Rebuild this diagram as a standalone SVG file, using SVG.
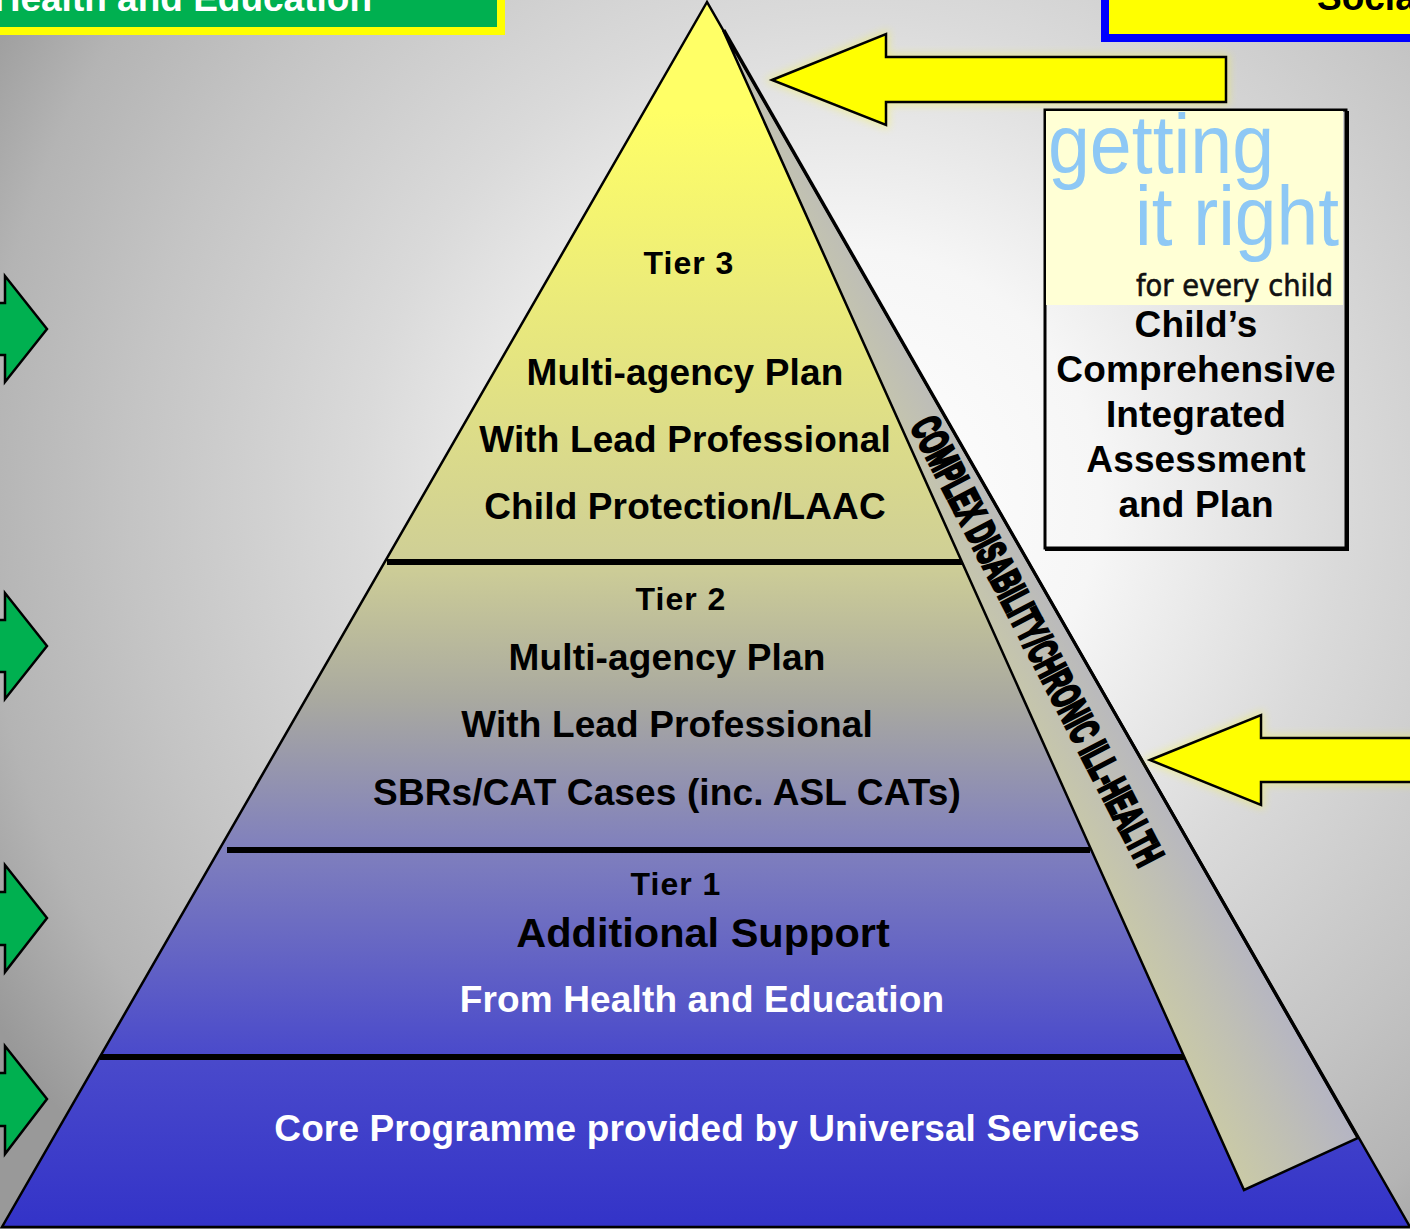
<svg xmlns="http://www.w3.org/2000/svg" width="1410" height="1229" viewBox="0 0 1410 1229">
<style>
.t{font-family:"Liberation Sans",Arial,sans-serif;font-weight:700;text-anchor:middle;fill:#000}
.w{fill:#fff}
.a{stroke:#000;stroke-width:2.5;stroke-linejoin:miter}
.y{fill:#ff0}
.g{fill:#00b050}
.d{stroke:#000;stroke-width:6;fill:none}
.m{font-size:37px;letter-spacing:.13px}
.r{font-size:32px;letter-spacing:1px}
.l{font-family:"Liberation Sans",Arial,sans-serif;font-size:84px;fill:#8ec8f5}
</style>
<defs>
<radialGradient id="bg" gradientUnits="userSpaceOnUse" cx="850" cy="500" r="1000">
<stop offset="0" stop-color="#fff"/><stop offset=".25" stop-color="#f6f6f6"/><stop offset=".49" stop-color="#dadada"/><stop offset=".72" stop-color="#c4c4c4"/><stop offset=".87" stop-color="#b4b4b4"/><stop offset="1" stop-color="#999"/>
</radialGradient>
<linearGradient id="py" gradientUnits="userSpaceOnUse" x1="0" y1="2" x2="0" y2="1227">
<stop offset=".09" stop-color="#ffff66"/><stop offset=".455" stop-color="#cfcf96"/><stop offset=".57" stop-color="#a9a9a0"/><stop offset=".69" stop-color="#8080bd"/><stop offset=".86" stop-color="#4a4acb"/><stop offset="1" stop-color="#3333c8"/>
</linearGradient>
<linearGradient id="st" gradientUnits="userSpaceOnUse" x1="1180" y1="1130" x2="1320" y2="1060">
<stop offset="0" stop-color="#cfcf9f"/><stop offset="1" stop-color="#b4b4c4"/>
</linearGradient>
<filter id="gl" x="-10%" y="-20%" width="120%" height="140%"><feGaussianBlur stdDeviation="4"/></filter>
</defs>
<rect id="background" width="1410" height="1229" fill="url(#bg)"/>
<g id="header-left">
<rect x="-10" y="-10" width="511" height="41" class="g" stroke="#ff0" stroke-width="8"/>
<text class="t w" x="372" y="11" style="text-anchor:end;font-size:37px">Health and Education</text>
</g>
<g id="header-right">
<rect x="1105" y="-10" width="320" height="48" class="y" stroke="#00f" stroke-width="8"/>
<text class="t" x="1317" y="10" style="text-anchor:start;font-size:37px">Social</text>
</g>
<g id="pyramid">
<path d="M707 2L2 1227H1410Z" fill="url(#py)" stroke="#000" stroke-width="2.5"/>
<path d="M723 30L1358 1138L1244 1190Z" fill="url(#st)" stroke="#000" stroke-width="2.5" stroke-linejoin="miter"/>
<path d="M724 30L1358 1138" fill="none" stroke="#000" stroke-width="3"/>
</g>
<g id="connectors">
<path class="d" d="M387 562H962"/>
<path class="d" d="M227 850H1090"/>
<path class="d" d="M100 1057H1184"/>
<path d="M772 80L886 34V57H1226V102H886V125Z" fill="#ff0" stroke="#ff0" stroke-width="6" opacity=".3" filter="url(#gl)"/>
<path class="a y" d="M772 80L886 34V57H1226V102H886V125Z"/>
<path d="M1150 760L1261 715V738H1420V782H1261V805Z" fill="#ff0" stroke="#ff0" stroke-width="6" opacity=".3" filter="url(#gl)"/>
<path class="a y" d="M1150 760L1261 715V738H1420V782H1261V805Z"/>
<path class="a g" d="M47 329L5 276V303H-10V355H5V382Z"/>
<path class="a g" d="M47 646L5 593V620H-10V672H5V699Z"/>
<path class="a g" d="M47 918L5 865V892H-10V945H5V972Z"/>
<path class="a g" d="M47 1099L5 1046V1073H-10V1126H5V1154Z"/>
</g>
<g id="strip-label">
<text class="t" transform="translate(910 426) rotate(62.6)" x="0" y="0" style="text-anchor:start;font-size:41px;stroke:#000;stroke-width:3.2" textLength="499" lengthAdjust="spacingAndGlyphs">COMPLEX DISABILITY/CHRONIC ILL-HEALTH</text>
</g>
<g id="tier3">
<text class="t r" x="689" y="274">Tier 3</text>
<text class="t m" x="685" y="385">Multi-agency Plan</text>
<text class="t m" x="685" y="452">With Lead Professional</text>
<text class="t m" x="685" y="519">Child Protection/LAAC</text>
</g>
<g id="tier2">
<text class="t r" x="681" y="610">Tier 2</text>
<text class="t m" x="667" y="670">Multi-agency Plan</text>
<text class="t m" x="667" y="737">With Lead Professional</text>
<text class="t m" x="667" y="805">SBRs/CAT Cases (inc. ASL CATs)</text>
</g>
<g id="tier1">
<text class="t r" x="676" y="895">Tier 1</text>
<text class="t" x="703" y="947" style="font-size:41.5px">Additional Support</text>
<text class="t m w" x="702" y="1012">From Health and Education</text>
</g>
<g id="core">
<text class="t m w" x="707" y="1141">Core Programme provided by Universal Services</text>
</g>
<g id="assessment">
<rect x="1045" y="110" width="301" height="438" fill="none" stroke="#000" stroke-width="3"/>
<path d="M1347 111V549H1045" fill="none" stroke="#000" stroke-width="4"/>
<rect x="1046" y="111" width="297" height="194" fill="#ffffd5"/>
<text class="l" x="1048" y="173" textLength="226" lengthAdjust="spacingAndGlyphs">getting</text>
<text class="l" x="1135" y="245" textLength="204" lengthAdjust="spacingAndGlyphs">it right</text>
<text x="1136" y="296" style="font-family:'DejaVu Sans',sans-serif;font-size:30px;stroke:#111;stroke-width:.6" fill="#111" textLength="197" lengthAdjust="spacingAndGlyphs">for every child</text>
<text class="t m" x="1196" y="337">Child’s</text>
<text class="t m" x="1196" y="382">Comprehensive</text>
<text class="t m" x="1196" y="427">Integrated</text>
<text class="t m" x="1196" y="472">Assessment</text>
<text class="t m" x="1196" y="517">and Plan</text>
</g>
</svg>
